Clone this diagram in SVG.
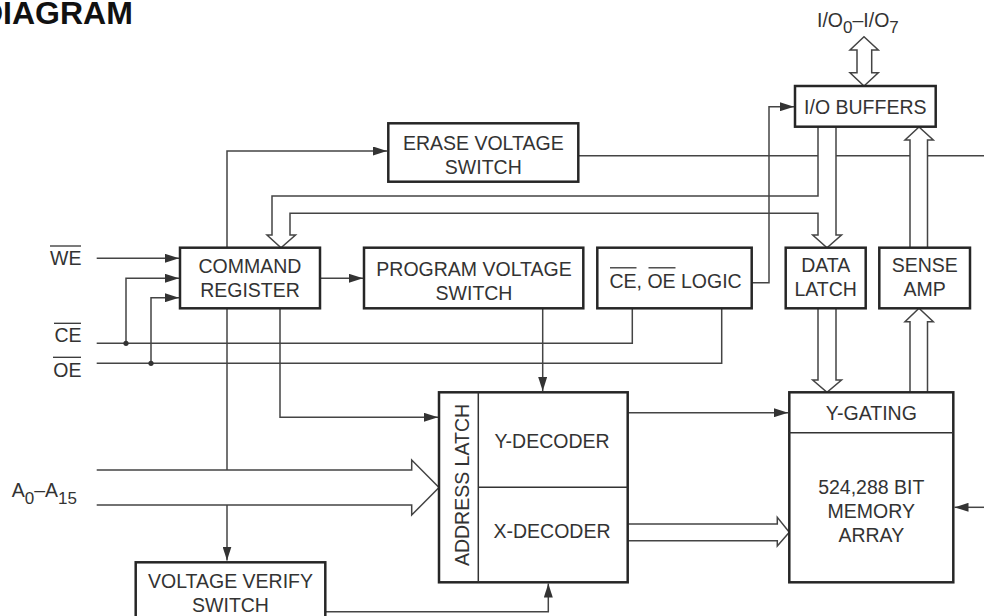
<svg xmlns="http://www.w3.org/2000/svg" width="984" height="616" viewBox="0 0 984 616">
<defs>
<style>
.box{fill:#fff;stroke:#262626;stroke-width:2.5}
.dv{fill:none;stroke:#333;stroke-width:1.5}
.ln{fill:none;stroke:#444;stroke-width:1.5}
.bus{fill:#fff;stroke:#444;stroke-width:1.5;stroke-linejoin:miter}
.ov{stroke:#333;stroke-width:1.3}
.t{font-family:"Liberation Sans",Arial,Helvetica,sans-serif;font-size:19.5px;fill:#333;text-anchor:middle}
.l{font-family:"Liberation Sans",Arial,Helvetica,sans-serif;font-size:19.5px;fill:#333}
.sub{font-size:17px}
.dot{fill:#333}
</style>
<marker id="ah" markerUnits="userSpaceOnUse" markerWidth="14" markerHeight="9" refX="14" refY="4.5" orient="auto">
<path d="M0,0 L14,4.5 L0,9 z" fill="#333"/>
</marker>
</defs>
<rect width="984" height="616" fill="#fff"/>
<text x="-20" y="24" font-family="Liberation Sans,Arial,sans-serif" font-size="32" font-weight="bold" fill="#111">DIAGRAM</text>

<g id="connectors">
<!-- plain lines under buses -->
<path class="ln" d="M578.3,155.7 H984"/>
<path class="ln" d="M227,308.3 V560.5" marker-end="url(#ah)"/>
<path class="ln" d="M96.7,258.3 H179" marker-end="url(#ah)"/>
<path class="ln" d="M96.7,343.3 H632.3 V309"/>
<path class="ln" d="M96.7,363.3 H721.7 V309"/>
<path class="ln" d="M126,343.3 V278.3 H179" marker-end="url(#ah)"/>
<path class="ln" d="M151,363.3 V297.7 H179" marker-end="url(#ah)"/>
<circle class="dot" cx="126" cy="343.3" r="2.6"/>
<circle class="dot" cx="151" cy="363.3" r="2.6"/>
<path class="ln" d="M227,247.7 V151 H387" marker-end="url(#ah)"/>
<path class="ln" d="M320,278.3 H363" marker-end="url(#ah)"/>
<path class="ln" d="M280,308.3 V417.3 H438" marker-end="url(#ah)"/>
<path class="ln" d="M542.7,308.3 V391" marker-end="url(#ah)"/>
<path class="ln" d="M325.3,611.7 H548.3 V583.5" marker-end="url(#ah)"/>
<path class="ln" d="M627.7,412.7 H788" marker-end="url(#ah)"/>
<path class="ln" d="M984,507.3 H954.5" marker-end="url(#ah)"/>
<!-- wide buses -->
<path class="bus" d="M818,127 V196 H272 V235 H267 L281,247.7 L295.5,235 H290 V213.3 H818 V235 H812.7 L827,247.7 L841.5,235 H836 V127"/>
<path class="bus" d="M910,247.7 V140 H905 L919,127 L933.3,140 H927.5 V247.7"/>
<path class="bus" d="M818,308.3 V380 H812.7 L827,392.3 L841.5,380 H836 V308.3"/>
<path class="bus" d="M910,392.3 V321.7 H905 L919,308.3 L933.3,321.7 H927.5 V392.3"/>
<path class="bus" d="M627.7,524 H777.3 V517.3 L789.3,532.3 L777.3,546 V540.7 H627.7"/>
<path class="bus" d="M96.7,470 H411.7 V460 L439,487.5 L411.7,515 V505 H96.7"/>
<path class="bus" d="M857,50 H850 L864,36.7 L878.3,50 H871.7 V72.7 H878.3 L864,86 L850,72.7 H857 Z"/>
<!-- line over buses -->
<path class="ln" d="M751.7,282.7 H769 V106.7 H794" marker-end="url(#ah)"/>
</g>

<g id="erase-voltage-switch">
<rect class="box" x="388.3" y="123.3" width="190" height="58.4"/>
<text class="t" x="483.3" y="150">ERASE VOLTAGE</text>
<text class="t" x="483.3" y="174">SWITCH</text>
</g>
<g id="io-buffers">
<rect class="box" x="795" y="86" width="140.7" height="40.7"/>
<text class="t" x="865.3" y="114">I/O BUFFERS</text>
</g>
<g id="io-label">
<text class="l" x="817" y="26.7">I/O<tspan class="sub" dy="6.5">0</tspan><tspan dy="-6.5">–I/O</tspan><tspan class="sub" dy="6.5">7</tspan></text>
</g>
<g id="command-register">
<rect class="box" x="180" y="247.7" width="140" height="60.6"/>
<text class="t" x="250" y="273.3">COMMAND</text>
<text class="t" x="250" y="297.3">REGISTER</text>
</g>
<g id="program-voltage-switch">
<rect class="box" x="364" y="247.7" width="219.3" height="60.6"/>
<text class="t" x="474" y="276">PROGRAM VOLTAGE</text>
<text class="t" x="474" y="300">SWITCH</text>
</g>
<g id="ce-oe-logic">
<rect class="box" x="597.3" y="247.7" width="154.4" height="60.6"/>
<text class="l" x="609.5" y="287.5">CE, OE LOGIC</text>
<line class="ov" x1="610" y1="267.8" x2="636.5" y2="267.8"/>
<line class="ov" x1="648.5" y1="267.8" x2="675.5" y2="267.8"/>
</g>
<g id="data-latch">
<rect class="box" x="785.7" y="247.7" width="80" height="60.6"/>
<text class="t" x="825.7" y="271.7">DATA</text>
<text class="t" x="825.7" y="295.7">LATCH</text>
</g>
<g id="sense-amp">
<rect class="box" x="879.3" y="247.7" width="90.7" height="60.6"/>
<text class="t" x="924.7" y="271.7">SENSE</text>
<text class="t" x="924.7" y="295.7">AMP</text>
</g>
<g id="address-latch-decoders">
<rect class="box" x="439" y="392.3" width="188.7" height="190"/>
<line class="dv" x1="478.3" y1="392.3" x2="478.3" y2="582.3"/>
<line class="dv" x1="478.3" y1="487.3" x2="627.7" y2="487.3"/>
<text class="t" transform="translate(469.3,485) rotate(-90)">ADDRESS LATCH</text>
<text class="t" x="552" y="448.3">Y-DECODER</text>
<text class="t" x="552" y="538.3">X-DECODER</text>
</g>
<g id="memory-array">
<rect class="box" x="789.3" y="392.3" width="164" height="190"/>
<line class="dv" x1="789.3" y1="432.7" x2="953.3" y2="432.7"/>
<text class="t" x="871.3" y="420">Y-GATING</text>
<text class="t" x="871.3" y="494.3">524,288 BIT</text>
<text class="t" x="871.3" y="518.3">MEMORY</text>
<text class="t" x="871.3" y="541.7">ARRAY</text>
</g>
<g id="voltage-verify-switch">
<rect class="box" x="135.7" y="562.3" width="189.6" height="60"/>
<text class="t" x="230.5" y="588">VOLTAGE VERIFY</text>
<text class="t" x="230.5" y="611.5">SWITCH</text>
</g>
<g id="inputs">
<text class="l" x="81.5" y="265" text-anchor="end">WE</text>
<line class="ov" x1="50" y1="246" x2="81" y2="246"/>
<text class="l" x="81.5" y="342.3" text-anchor="end">CE</text>
<line class="ov" x1="54" y1="323.3" x2="81" y2="323.3"/>
<text class="l" x="81.5" y="376.7" text-anchor="end">OE</text>
<line class="ov" x1="53" y1="357.3" x2="81" y2="357.3"/>
<text class="l" x="11.7" y="496.7">A<tspan class="sub" dy="7">0</tspan><tspan dy="-7">–A</tspan><tspan class="sub" dy="7">15</tspan></text>
</g>
</svg>
